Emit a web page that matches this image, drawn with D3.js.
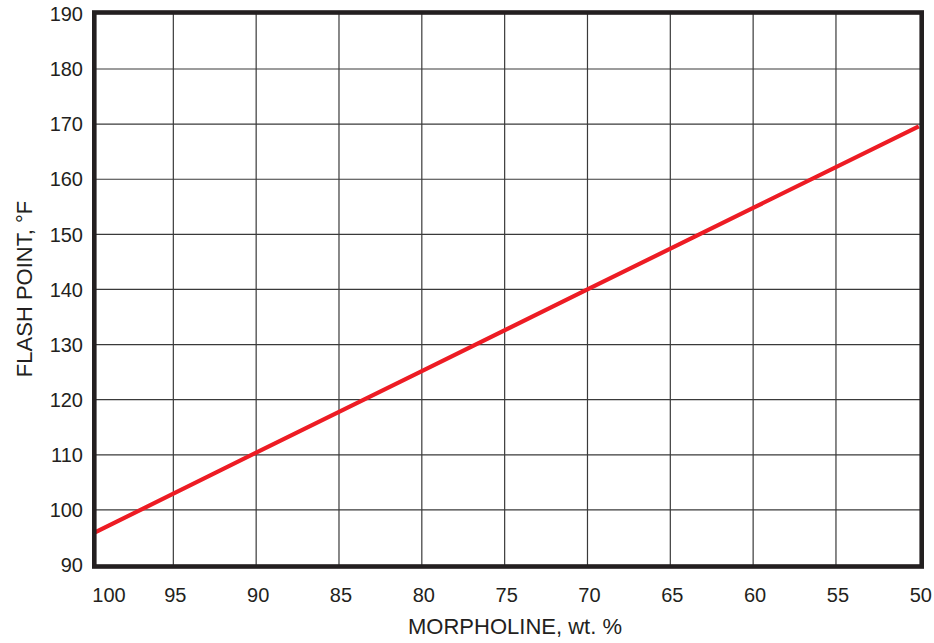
<!DOCTYPE html>
<html>
<head>
<meta charset="utf-8">
<script src="https://cdn.jsdelivr.net/npm/d3@7"></script>
<style>
  body { margin: 0; background: #fff; }
  svg text { font-family: "Liberation Sans", Arial, sans-serif; fill: #231f20; }
</style>
</head>
<body>
<script>
// values
const xTicks = [100, 95, 90, 85, 80, 75, 70, 65, 60, 55, 50]
const yTicks = [90, 100, 110, 120, 130, 140, 150, 160, 170, 180, 190]
const morpholine = [100, 90, 80, 70, 60, 50]
const flashPoint = [95.5, 110.4, 125.2, 140, 154.8, 169.6]

const W = 934, H = 643
const svg = d3.select('body').append('svg')
  .attr('width', W).attr('height', H)

const x = d3.scaleLinear().domain([100, 50]).range([90.5, 918.8])
const y = d3.scaleLinear().domain([90, 190]).range([565, 13.9])

// frame box
const fx0 = 94.3, fx1 = 921.7, fy0 = 12.5, fy1 = 566.5
const TICKFONT = 20
const TITLEFONT = 22

svg.append('clipPath').attr('id', 'plotclip')
  .append('rect')
  .attr('x', fx0).attr('y', fy0)
  .attr('width', fx1 - fx0).attr('height', fy1 - fy0)

const grid = svg.append('g').attr('clip-path', 'url(#plotclip)')

grid.selectAll('line.vgrid')
  .data(xTicks.slice(1, -1))
  .enter().append('line')
  .attr('class', 'vgrid')
  .attr('x1', d => x(d)).attr('x2', d => x(d))
  .attr('y1', fy0).attr('y2', fy1)
  .attr('stroke', '#3a3a3a').attr('stroke-width', 1.2)

grid.selectAll('line.hgrid')
  .data(yTicks.slice(1, -1))
  .enter().append('line')
  .attr('class', 'hgrid')
  .attr('x1', fx0).attr('x2', fx1)
  .attr('y1', d => y(d)).attr('y2', d => y(d))
  .attr('stroke', '#3a3a3a').attr('stroke-width', 1.2)

const line = d3.line()
  .x((d, i) => x(morpholine[i]))
  .y(d => y(d))

grid.append('path')
  .datum(flashPoint)
  .attr('d', line)
  .attr('fill', 'none')
  .attr('stroke', '#ed1c24')
  .attr('stroke-width', 4.2)

svg.append('rect')
  .attr('x', fx0).attr('y', fy0)
  .attr('width', fx1 - fx0).attr('height', fy1 - fy0)
  .attr('fill', 'none')
  .attr('stroke', '#231f20')
  .attr('stroke-width', 4.6)

// y tick labels
svg.selectAll('text.ylab')
  .data(yTicks)
  .enter().append('text')
  .attr('class', 'ylab')
  .attr('x', 83)
  .attr('y', d => y(d))
  .attr('dy', '0.36em')
  .attr('text-anchor', 'end')
  .style('font-size', TICKFONT + 'px')
  .text(d => d)

// x tick labels (first one sits inside the frame edge)
svg.selectAll('text.xlab')
  .data(xTicks)
  .enter().append('text')
  .attr('class', 'xlab')
  .attr('x', (d, i) => i === 0 ? x(d) + 18.5 : x(d) + 2)
  .attr('y', 602)
  .attr('text-anchor', 'middle')
  .style('font-size', TICKFONT + 'px')
  .text(d => d)

svg.append('text')
  .attr('x', 515).attr('y', 634)
  .attr('text-anchor', 'middle')
  .style('font-size', TITLEFONT + 'px')
  .text('MORPHOLINE, wt. %')

svg.append('text')
  .attr('transform', 'translate(31.5,289) rotate(-90)')
  .attr('text-anchor', 'middle')
  .style('font-size', TITLEFONT + 'px')
  .text('FLASH POINT, °F')
</script>
</body>
</html>
